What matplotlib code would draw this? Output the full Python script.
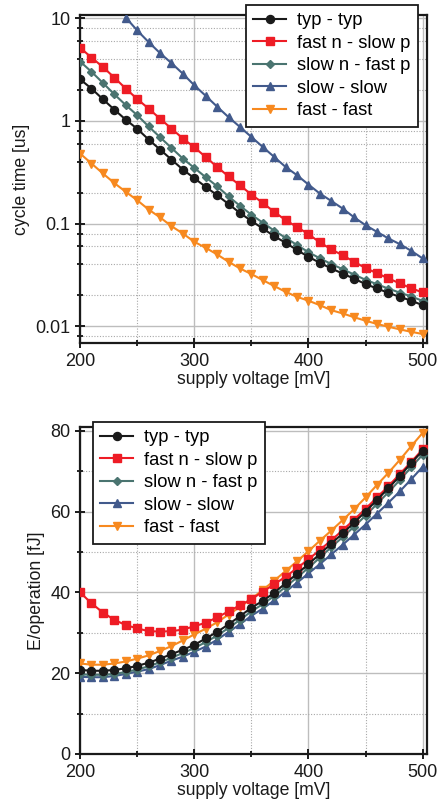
import numpy as np
import matplotlib
matplotlib.use('Agg')
import matplotlib.pyplot as plt
from matplotlib.ticker import FixedLocator, NullFormatter, FuncFormatter

plt.rcParams['font.family'] = ['Liberation Sans', 'DejaVu Sans']

# supply voltage sweep [mV]
voltage = list(range(200, 501, 10))

corners = ['typ - typ', 'fast n - slow p', 'slow n - fast p', 'slow - slow', 'fast - fast']
colors = ['#1a1a1a', '#ee1c25', '#4a7470', '#425a8c', '#f7891f']
markers = ['o', 's', 'D', '^', 'v']
msizes = [5.8, 5.8, 4.4, 6.3, 6.3]

# cycle time [us]
t_typ = [2.55, 2.07, 1.63, 1.29, 1.03, 0.84, 0.66, 0.527, 0.421, 0.336, 0.277,
         0.228, 0.189, 0.155, 0.127, 0.106, 0.0896, 0.0754, 0.0649, 0.0551, 0.0474,
         0.0414, 0.0365, 0.0325, 0.0290, 0.0257, 0.0233, 0.0211, 0.0193, 0.0177, 0.0160]
t_fnsp = [5.19, 4.15, 3.36, 2.65, 2.07, 1.64, 1.32, 1.055, 0.843, 0.675, 0.555,
          0.445, 0.357, 0.288, 0.236, 0.192, 0.159, 0.130, 0.108, 0.0925, 0.0788,
          0.0655, 0.0560, 0.0490, 0.0424, 0.0368, 0.0328, 0.0292, 0.0261, 0.0234, 0.0213]
t_snfp = [3.80, 3.02, 2.35, 1.82, 1.43, 1.14, 0.885, 0.695, 0.547, 0.430, 0.349,
          0.283, 0.231, 0.184, 0.149, 0.122, 0.102, 0.0852, 0.0727, 0.0617, 0.0526,
          0.0458, 0.0403, 0.0359, 0.0318, 0.0283, 0.0256, 0.0232, 0.0212, 0.0195, 0.0176]
t_ss = [np.nan, np.nan, np.nan, np.nan, 10.2, 7.64, 5.88, 4.59, 3.67, 2.89, 2.23,
        1.76, 1.38, 1.09, 0.875, 0.699, 0.558, 0.446, 0.356, 0.296, 0.240,
        0.196, 0.166, 0.140, 0.115, 0.0964, 0.083, 0.0716, 0.063, 0.0542, 0.0457]
t_ff = [0.482, 0.385, 0.308, 0.248, 0.204, 0.169, 0.137, 0.115, 0.0944, 0.080, 0.0664,
        0.058, 0.050, 0.0424, 0.0365, 0.0322, 0.0281, 0.0246, 0.0216, 0.0193, 0.0177,
        0.0160, 0.0143, 0.0133, 0.0122, 0.0113, 0.0105, 0.00986, 0.0093, 0.0088, 0.00838]

# energy per operation [fJ]
e_typ = [20.8, 20.6, 20.6, 20.8, 21.2, 21.8, 22.6, 23.6, 24.7, 25.8, 27.0,
         28.6, 30.2, 32.1, 34.1, 36.2, 37.9, 39.9, 42.3, 44.6, 47.0,
         49.5, 52.1, 54.6, 57.3, 60.0, 62.9, 65.8, 68.8, 72.0, 75.1]
e_fnsp = [40.0, 37.3, 35.0, 33.2, 31.9, 31.1, 30.4, 30.3, 30.4, 30.8, 31.6,
          32.5, 33.8, 35.3, 36.8, 38.3, 40.2, 42.0, 43.9, 46.0, 48.2,
          50.5, 52.9, 55.4, 58.0, 60.7, 63.5, 66.3, 69.3, 72.3, 75.4]
e_snfp = [19.7, 19.6, 19.6, 19.8, 20.3, 20.9, 21.7, 22.7, 23.8, 25.0, 26.2,
          27.7, 29.3, 31.2, 33.2, 35.3, 37.1, 39.1, 41.4, 43.7, 46.1,
          48.6, 51.2, 53.7, 56.3, 59.0, 61.9, 64.8, 67.8, 71.0, 74.1]
e_ss = [19.1, 19.0, 19.0, 19.3, 19.8, 20.4, 21.0, 22.0, 23.1, 24.1, 25.3,
        26.6, 28.3, 30.2, 32.1, 34.2, 36.0, 38.0, 40.2, 42.4, 44.7,
        47.0, 49.4, 51.8, 54.3, 56.8, 59.5, 62.2, 65.0, 68.0, 71.1]
e_ff = [22.4, 22.1, 22.1, 22.4, 22.9, 23.6, 24.4, 25.5, 26.7, 28.1, 29.6,
        31.0, 32.6, 34.5, 36.4, 38.4, 40.6, 42.9, 45.3, 47.7, 50.2,
        52.8, 55.3, 57.9, 60.6, 63.5, 66.6, 69.6, 72.8, 76.2, 79.5]

cycle = [t_typ, t_fnsp, t_snfp, t_ss, t_ff]
energy = [e_typ, e_fnsp, e_snfp, e_ss, e_ff]

fig = plt.figure(figsize=(4.4, 8.11), dpi=100)
ax1 = fig.add_axes([0.182, 0.577, 0.789, 0.404])
ax2 = fig.add_axes([0.182, 0.0703, 0.789, 0.403])


def draw(ax, series):
    handles = []
    # plot back to front so typ-typ ends up on top
    for i in reversed(range(len(series))):
        h, = ax.plot(voltage, series[i], color=colors[i], marker=markers[i],
                     ms=msizes[i], mec=colors[i], mfc=colors[i], lw=1.5,
                     label=corners[i], zorder=3 + (5 - i))
        handles.insert(0, h)
    return handles


def style(ax):
    ax.set_xlim(200, 504)
    ax.xaxis.set_major_locator(FixedLocator([200, 300, 400, 500]))
    ax.xaxis.set_minor_locator(FixedLocator([250, 350, 450]))
    ax.grid(True, which='major', color='#bdbdbd', lw=1.0, ls='-', zorder=0)
    ax.grid(True, which='minor', color='#a8a8a8', lw=0.8, ls=(0, (1, 1.5)), zorder=0)
    ax.set_axisbelow(True)
    for s in ax.spines.values():
        s.set_linewidth(1.6)
        s.set_color('#1a1a1a')
    ax.tick_params(which='major', direction='inout', length=7, width=1.4,
                   labelsize=13, colors='#1a1a1a', top=False, right=False)
    ax.tick_params(which='minor', direction='inout', length=4.5, width=1.2,
                   top=False, right=False)
    ax.set_xlabel('supply voltage [mV]', fontsize=12.7, labelpad=1, color='#1a1a1a')


h1 = draw(ax1, cycle)
ax1.set_yscale('log')
ax1.set_ylim(0.00684, 10.7)
style(ax1)
ax1.yaxis.set_major_locator(FixedLocator([0.01, 0.1, 1, 10]))
ax1.yaxis.set_major_formatter(FuncFormatter(lambda v, p: '%g' % v))
minor = [m * 10.0 ** d for d in range(-3, 1) for m in (2, 4, 6, 8)]
ax1.yaxis.set_minor_locator(FixedLocator(minor))
ax1.yaxis.set_minor_formatter(NullFormatter())
ax1.set_ylabel('cycle time [us]', fontsize=12.7, labelpad=4, color='#1a1a1a')

h2 = draw(ax2, energy)
ax2.set_ylim(0, 80.9)
style(ax2)
ax2.yaxis.set_major_locator(FixedLocator([0, 20, 40, 60, 80]))
ax2.yaxis.set_minor_locator(FixedLocator([10, 30, 50, 70]))
ax2.set_ylabel('E/operation [fJ]', fontsize=12.7, labelpad=4, color='#1a1a1a')

legend_kw = dict(fontsize=13.2, numpoints=1, handlelength=1.8, handletextpad=0.6,
                 labelspacing=0.3, borderpad=0.4, borderaxespad=0, fancybox=False,
                 framealpha=1, edgecolor='#1a1a1a')
lg1 = fig.legend(handles=h1, loc='upper right',
                 bbox_to_anchor=(418 / 440, 1 - 5 / 811), **legend_kw)
lg2 = fig.legend(handles=h2, loc='upper left',
                 bbox_to_anchor=(93 / 440, 1 - 422 / 811), **legend_kw)
for lg in (lg1, lg2):
    lg.get_frame().set_linewidth(1.3)

fig.savefig('out.png', dpi=100)
